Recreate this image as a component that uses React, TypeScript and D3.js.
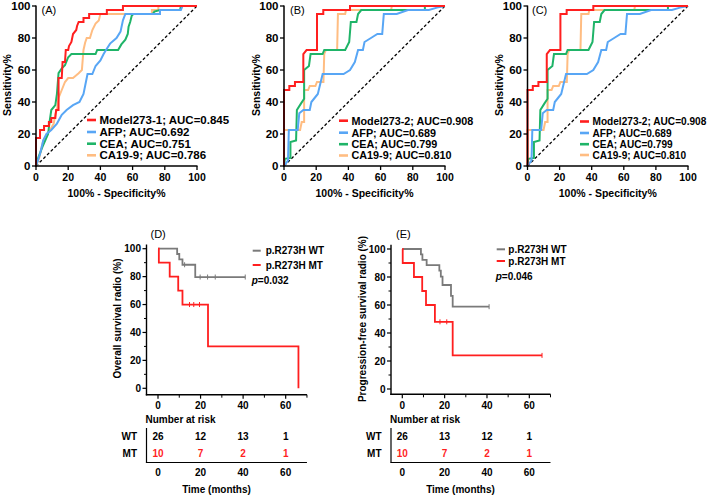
import React from "react";
import * as d3 from "d3";

type Pt = [number, number];

// ---------- ROC data (100% - specificity %, sensitivity %) ----------
const rocTicks = [0, 20, 40, 60, 80, 100];
const legendA = ["Model273-1; AUC=0.845", "AFP; AUC=0.692", "CEA; AUC=0.751", "CA19-9; AUC=0.786"];
const legendBC = ["Model273-2; AUC=0.908", "AFP; AUC=0.689", "CEA; AUC=0.799", "CA19-9; AUC=0.810"];

const modelA: Pt[] = [[0,0],[0,17.5],[2.5,17.5],[2.5,22.5],[5,22.5],[5,25],[8,25],[8,27.5],[9.5,27.5],[9.5,30],[12,30],[12.5,35],[14,35],[14,55],[16,55],[16.5,65],[18,65],[18.5,72.5],[20,72.5],[20.5,75],[22,77.5],[23,82.5],[25,85],[25.5,87.5],[26.5,90],[29.5,90],[29.5,92.5],[33,92.5],[33,95],[44,95],[44,97.5],[54,97.5],[54,100],[100,100]];
const afpA: Pt[] = [[0,0],[2.5,7.5],[4.5,16],[6.5,20],[9.5,22.5],[13,26.5],[16,32],[19,35],[23,38],[27,40],[29.5,45],[30.5,50],[31.5,55],[32,57.5],[35,57.5],[37,62.5],[40,66],[42,70],[43.5,72.5],[46,76.5],[50,80],[52.5,84],[54,91],[55.5,95],[77,95],[77,97.5],[90,97.5],[91,100],[100,100]];
const ceaA: Pt[] = [[0,0],[1.5,5.5],[4,12],[7.5,20],[8.5,28],[9.5,35],[12,38],[13,45],[14,58],[16,61],[18,63],[20,68],[22,70],[37,70],[38,72.5],[51,72.5],[53,76],[55.5,79],[57,82.5],[57.5,87],[58.5,90],[59.5,94],[60.5,95],[72.5,95],[73.5,96.5],[77,97.5],[89.5,97.5],[90,100],[100,100]];
const caA: Pt[] = [[0,0],[2,5],[4.5,16],[7,20],[9,23],[11,26.5],[12,32.5],[13,35],[14,42.5],[15,45],[16,47.5],[18,52.5],[20,55],[23,55],[26.5,58],[28.5,60],[29.5,72.5],[30.5,77],[31.5,80],[33.5,80],[35,85],[37,89],[39,91],[40,95],[72,95],[72,97.5],[76,97.5],[76,100],[100,100]];

const modelB: Pt[] = [[0,0],[0,47.5],[3.3,47.5],[3.3,50],[6.8,50],[6.8,52.5],[12,52.5],[12,70],[14,72.5],[20.5,72.5],[20.5,95],[24.4,95],[24.4,97.5],[41,97.5],[41,100],[100,100]];
const afpB: Pt[] = [[0,0],[2.5,3.5],[3,22.5],[8.5,22.5],[9.5,33],[12,35],[16,35],[17,40],[19,42.5],[21,45],[24,57.5],[37,57.5],[41,60],[44,65],[46,72.5],[49,72.5],[50,77.5],[54,80],[58,82.5],[61,82.5],[62,95],[70,95],[77,97.5],[90,97.5],[95,99],[100,100]];
const ceaB: Pt[] = [[0,0],[0.5,4.5],[4,5],[4,15],[7.5,16],[8,35],[10.5,39],[12.5,42],[12.5,60],[15.5,62.5],[16.5,70],[24,70],[25,72.5],[38,72.5],[40.5,77.5],[41.5,90],[45,90],[46,95],[48,97.5],[87.5,97.5],[87.5,100],[100,100]];
const caB: Pt[] = [[0,0],[0,22.5],[10,22.5],[11,27.5],[12.5,27.5],[12.5,47.5],[15,47.5],[16,50],[19.5,50],[20.5,52.5],[24.5,52.5],[25,70],[26,72.5],[33,72.5],[33.5,95],[38,95],[38.5,97.5],[66.5,97.5],[67,100],[100,100]];

// ---------- Kaplan-Meier data (months, survival %) ----------
const survTicks = [0, 20, 40, 60, 80, 100];
const survMinor = [10, 30, 50, 70, 90];
const timeTicks = [0, 20, 40, 60];
const timeMinor = [10, 30, 50, 70];

const wtD: Pt[] = [[0,100],[9,96.2],[10,92.3],[11.5,88.5],[17.5,79.7],[41,79.7]];
const mtD: Pt[] = [[0,100],[0.4,90],[5.5,80],[9.5,70],[11.5,60],[23.5,30],[66,0]];
const wtDCensor: Pt[] = [[12.5,88.5],[19.8,79.7],[23.3,79.7],[26.9,79.7],[41,79.7]];
const mtDCensor: Pt[] = [[14.8,60],[16.8,60],[19.5,60]];

const wtE: Pt[] = [[0,100],[8.8,96.2],[9.5,92.3],[11.5,88.5],[17.5,84.6],[18.2,80.2],[19,74.3],[23,66.5],[23.8,58.8],[41,58.8]];
const mtE: Pt[] = [[0,100],[0.2,90],[5.5,80],[9.4,70],[11.2,60],[15.4,48],[23.8,24],[66,24]];
const wtECensor: Pt[] = [[41,58.8]];
const mtECensor: Pt[] = [[17.8,48],[21,48],[66,24]];

const riskTimes = [0, 20, 40, 60];
const riskWtD = [26, 12, 13, 1];
const riskMtD = [10, 7, 2, 1];
const riskWtE = [26, 13, 12, 1];
const riskMtE = [10, 7, 2, 1];

const RED = "#ff1f1f";
const BLUE = "#58a6f5";
const GREEN = "#1fb468";
const ORANGE = "#ffbd82";
const GRAY = "#7a7a7a";
const FONT = "'Liberation Sans', Arial, sans-serif";

type RocCfg = {
  left: number; right: number; label: string; labelX: number; titleX: number;
  legLine: [number, number]; legTextX: number; legY: number[]; legFont: number;
};

function RocPanel({ cfg, series, legend }: { cfg: RocCfg; series: { data: Pt[]; color: string }[]; legend: string[] }) {
  const x = d3.scaleLinear().domain([0, 100]).range([cfg.left, cfg.right]);
  const y = d3.scaleLinear().domain([0, 100]).range([166, 6]);
  const line = d3.line<Pt>().x((d) => x(d[0])).y((d) => y(d[1]));
  return (
    <g fontFamily={FONT}>
      <line x1={x(0)} y1={y(0)} x2={x(100)} y2={y(100)} stroke="#000" strokeWidth={1.3} strokeDasharray="3,2.2" />
      {[...series].reverse().map((s, i) => (
        <path key={i} d={line(s.data) || ""} fill="none" stroke={s.color} strokeWidth={2} strokeLinejoin="miter" />
      ))}
      <line x1={x(0)} y1={y(0) + 0.75} x2={x(0)} y2={y(100) - 0.5} stroke="#000" strokeWidth={1.5} />
      <line x1={x(0) - 0.75} y1={y(0)} x2={x(100) + 0.5} y2={y(0)} stroke="#000" strokeWidth={1.5} />
      {rocTicks.map((t) => (
        <g key={"y" + t}>
          <line x1={x(0) - 4} x2={x(0)} y1={y(t)} y2={y(t)} stroke="#000" strokeWidth={1.3} />
          <text x={x(0) - 5.5} y={y(t)} dy="0.36em" textAnchor="end" fontSize={11.5} fontWeight="bold">{t}</text>
        </g>
      ))}
      {rocTicks.map((t) => (
        <g key={"x" + t}>
          <line x1={x(t)} x2={x(t)} y1={y(0)} y2={y(0) + 4} stroke="#000" strokeWidth={1.3} />
          <text x={x(t)} y={181} textAnchor="middle" fontSize={10.5} fontWeight="bold">{t}</text>
        </g>
      ))}
      <text x={(x(0) + x(100)) / 2} y={196.5} textAnchor="middle" fontSize={10.5} fontWeight="bold">100% - Specificity%</text>
      <text transform={`translate(${cfg.titleX},${(y(0) + y(100)) / 2 - 1}) rotate(-90)`} textAnchor="middle" fontSize={10.5} fontWeight="bold">Sensitivity%</text>
      <text x={cfg.labelX} y={14} fontSize={11}>{cfg.label}</text>
      {legend.map((t, i) => (
        <g key={"l" + i}>
          <line x1={cfg.legLine[0]} x2={cfg.legLine[1]} y1={cfg.legY[i]} y2={cfg.legY[i]} stroke={series[i].color} strokeWidth={2.6} />
          <text x={cfg.legTextX} y={cfg.legY[i]} dy="0.36em" fontSize={cfg.legFont} fontWeight="bold">{t}</text>
        </g>
      ))}
    </g>
  );
}

type KmCfg = {
  axisX: number; axisY: number; x0: number; pxPerMonth: number; yTop: number; yBottom: number;
  title: string; titleX: number; label: string; labelX: number;
  legLine: [number, number]; legTextX: number; legY: number[]; pText: string;
  riskWt: number[]; riskMt: number[];
};

function KmPanel({ cfg, wt, mt, wtC, mtC }: { cfg: KmCfg; wt: Pt[]; mt: Pt[]; wtC: Pt[]; mtC: Pt[] }) {
  const x = d3.scaleLinear().domain([0, 70]).range([cfg.x0, cfg.x0 + 70 * cfg.pxPerMonth]);
  const y = d3.scaleLinear().domain([0, 100]).range([cfg.yBottom, cfg.yTop]);
  const step = d3.line<Pt>().x((d) => x(d[0])).y((d) => y(d[1])).curve(d3.curveStepAfter);
  const xEnd = x(70);
  const tableTop = 428;
  const tableBottom = 462.5;
  return (
    <g fontFamily={FONT}>
      <text x={cfg.labelX} y={237.5} fontSize={11}>{cfg.label}</text>
      <path d={step(wt) || ""} fill="none" stroke={GRAY} strokeWidth={1.8} />
      <path d={step(mt) || ""} fill="none" stroke={RED} strokeWidth={1.8} />
      {wtC.map((c, i) => (
        <line key={"wc" + i} x1={x(c[0])} x2={x(c[0])} y1={y(c[1]) - 2.5} y2={y(c[1]) + 2.5} stroke={GRAY} strokeWidth={1} />
      ))}
      {mtC.map((c, i) => (
        <line key={"mc" + i} x1={x(c[0])} x2={x(c[0])} y1={y(c[1]) - 2.5} y2={y(c[1]) + 2.5} stroke={RED} strokeWidth={1} />
      ))}
      <line x1={cfg.axisX} x2={cfg.axisX} y1={y(103)} y2={cfg.axisY + 0.7} stroke="#000" strokeWidth={1.4} />
      <line x1={cfg.axisX - 0.7} x2={xEnd} y1={cfg.axisY} y2={cfg.axisY} stroke="#000" strokeWidth={1.4} />
      {survTicks.map((t) => (
        <g key={"sy" + t}>
          <line x1={cfg.axisX - 4} x2={cfg.axisX} y1={y(t)} y2={y(t)} stroke="#000" strokeWidth={1.2} />
          <text x={cfg.axisX - 5.5} y={y(t)} dy="0.36em" textAnchor="end" fontSize={10} fontWeight="bold">{t}</text>
        </g>
      ))}
      {survMinor.map((t) => (
        <line key={"sm" + t} x1={cfg.axisX - 2.5} x2={cfg.axisX} y1={y(t)} y2={y(t)} stroke="#000" strokeWidth={1} />
      ))}
      {timeTicks.map((t) => (
        <g key={"tx" + t}>
          <line x1={x(t)} x2={x(t)} y1={cfg.axisY} y2={cfg.axisY + 4} stroke="#000" strokeWidth={1.2} />
          <text x={x(t)} y={409} textAnchor="middle" fontSize={10} fontWeight="bold">{t}</text>
        </g>
      ))}
      {timeMinor.map((t) => (
        <line key={"tm" + t} x1={x(t)} x2={x(t)} y1={cfg.axisY} y2={cfg.axisY + 3} stroke="#000" strokeWidth={1} />
      ))}
      <text transform={`translate(${cfg.titleX},${(y(0) + y(100)) / 2}) rotate(-90)`} textAnchor="middle" fontSize={10} fontWeight="bold">{cfg.title}</text>
      <line x1={cfg.legLine[0]} x2={cfg.legLine[1]} y1={cfg.legY[0]} y2={cfg.legY[0]} stroke={GRAY} strokeWidth={2} />
      <text x={cfg.legTextX} y={cfg.legY[0]} dy="0.36em" fontSize={10} fontWeight="bold">p.R273H WT</text>
      <line x1={cfg.legLine[0]} x2={cfg.legLine[1]} y1={cfg.legY[1]} y2={cfg.legY[1]} stroke={RED} strokeWidth={2} />
      <text x={cfg.legTextX} y={cfg.legY[1]} dy="0.36em" fontSize={10} fontWeight="bold">p.R273H MT</text>
      <text x={cfg.legLine[0] - 1} y={cfg.legY[2]} dy="0.36em" fontSize={10} fontWeight="bold">
        <tspan fontStyle="italic">p</tspan>{cfg.pText}
      </text>
      <text x={cfg.axisX - 1} y={422.5} fontSize={10} fontWeight="bold">Number at risk</text>
      <text x={cfg.axisX - 9.5} y={440} textAnchor="end" fontSize={10} fontWeight="bold">WT</text>
      <text x={cfg.axisX - 9.5} y={457.3} textAnchor="end" fontSize={10} fontWeight="bold">MT</text>
      {riskTimes.map((t, i) => (
        <g key={"r" + t}>
          <text x={x(t)} y={440} textAnchor="middle" fontSize={10} fontWeight="bold">{cfg.riskWt[i]}</text>
          <text x={x(t)} y={457.3} textAnchor="middle" fontSize={10} fontWeight="bold" fill={RED}>{cfg.riskMt[i]}</text>
          <text x={x(t)} y={475.8} textAnchor="middle" fontSize={10} fontWeight="bold">{t}</text>
        </g>
      ))}
      <line x1={cfg.axisX} x2={cfg.axisX} y1={tableTop} y2={tableBottom} stroke="#000" strokeWidth={1.2} />
      <line x1={cfg.axisX - 0.6} x2={xEnd} y1={tableBottom} y2={tableBottom} stroke="#000" strokeWidth={1.2} />
      <text x={x(27.5)} y={493} textAnchor="middle" fontSize={10} fontWeight="bold">Time (months)</text>
    </g>
  );
}

const cfgA: RocCfg = { left: 36, right: 197, label: "(A)", labelX: 41.5, titleX: 10.5, legLine: [87, 96], legTextX: 99.5, legY: [120, 132, 143.7, 155.3], legFont: 11.5 };
const cfgB: RocCfg = { left: 284, right: 445, label: "(B)", labelX: 290, titleX: 260, legLine: [339, 348], legTextX: 351.5, legY: [120.7, 132.7, 144.2, 155.5], legFont: 10.8 };
const cfgC: RocCfg = { left: 527.5, right: 688, label: "(C)", labelX: 532, titleX: 503, legLine: [580, 589], legTextX: 592.5, legY: [121.5, 133, 144.2, 155], legFont: 10.1 };

const cfgD: KmCfg = {
  axisX: 146.5, axisY: 394.7, x0: 158, pxPerMonth: 2.128, yTop: 248.7, yBottom: 388.3,
  title: "Overall survival radio (%)", titleX: 120.5, label: "(D)", labelX: 150.5,
  legLine: [252.7, 260.7], legTextX: 265.7, legY: [250.7, 265, 280], pText: "=0.032",
  riskWt: riskWtD, riskMt: riskMtD,
};
const cfgE: KmCfg = {
  axisX: 391, axisY: 394.3, x0: 402.3, pxPerMonth: 2.117, yTop: 249, yBottom: 389,
  title: "Progression-free survival radio (%)", titleX: 365.5, label: "(E)", labelX: 396,
  legLine: [496.7, 505], legTextX: 508.3, legY: [249.3, 261, 276.7], pText: "=0.046",
  riskWt: riskWtE, riskMt: riskMtE,
};

export default function App() {
  const seriesA = [
    { data: modelA, color: RED }, { data: afpA, color: BLUE }, { data: ceaA, color: GREEN }, { data: caA, color: ORANGE },
  ];
  const seriesB = [
    { data: modelB, color: RED }, { data: afpB, color: BLUE }, { data: ceaB, color: GREEN }, { data: caB, color: ORANGE },
  ];
  return (
    <svg width={709} height={498} style={{ position: "absolute", left: 0, top: 0, background: "#fff" }}>
      <rect width={709} height={498} fill="#fff" />
      <RocPanel cfg={cfgA} series={seriesA} legend={legendA} />
      <RocPanel cfg={cfgB} series={seriesB} legend={legendBC} />
      <RocPanel cfg={cfgC} series={seriesB} legend={legendBC} />
      <KmPanel cfg={cfgD} wt={wtD} mt={mtD} wtC={wtDCensor} mtC={mtDCensor} />
      <KmPanel cfg={cfgE} wt={wtE} mt={mtE} wtC={wtECensor} mtC={mtECensor} />
    </svg>
  );
}
